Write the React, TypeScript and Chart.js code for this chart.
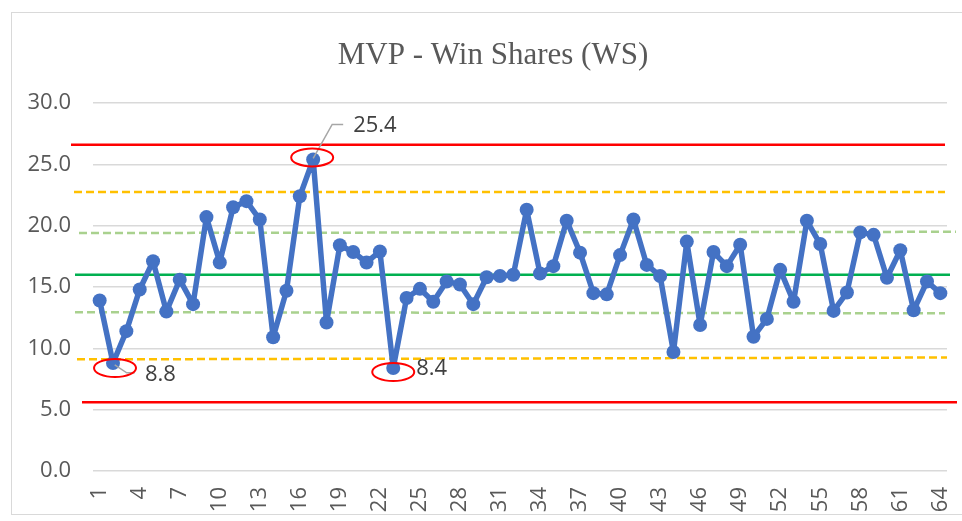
import React, { useEffect, useRef } from "react";
import { Chart, registerables } from "chart.js";

Chart.register(...registerables);

const categories = [
  "1", "2", "3", "4", "5", "6", "7", "8", "9", "10", "11", "12", "13", "14", "15", "16",
  "17", "18", "19", "20", "21", "22", "23", "24", "25", "26", "27", "28", "29", "30", "31", "32",
  "33", "34", "35", "36", "37", "38", "39", "40", "41", "42", "43", "44", "45", "46", "47", "48",
  "49", "50", "51", "52", "53", "54", "55", "56", "57", "58", "59", "60", "61", "62", "63", "64",
];

const winShares = [
  13.9, 8.8, 11.4, 14.8, 17.1, 13.0, 15.6, 13.6, 20.7, 17.0, 21.5, 22.0, 20.5, 10.9, 14.7, 22.4,
  25.4, 12.1, 18.4, 17.85, 17.0, 17.9, 8.4, 14.1, 14.85, 13.8, 15.45, 15.2, 13.6, 15.8, 15.9, 16.0,
  21.3, 16.1, 16.7, 20.4, 17.8, 14.5, 14.4, 17.6, 20.5, 16.8, 15.9, 9.7, 18.7, 11.9, 17.85, 16.7,
  18.45, 10.95, 12.4, 16.4, 13.8, 20.4, 18.5, 13.05, 14.55, 19.45, 19.25, 15.75, 18.0, 13.1, 15.45, 14.5,
];

const yTicks = [0, 5, 10, 15, 20, 25, 30];

// control lines (value at left end, value at right end)
const controlNames = ["UCL", "+2σ", "+1σ", "Mean", "-1σ", "-2σ", "LCL"];
const controlStart = [26.6, 22.75, 19.4, 16.0, 12.95, 9.1, 5.6];
const controlEnd = [26.6, 22.75, 19.5, 16.0, 12.85, 9.25, 5.6];

// highlighted points (indices)
const flaggedPoints = [1, 16, 22];

const TICK_FONT = '"Open Sans", "Liberation Sans", sans-serif';

const controlStyles = [
  { color: "#FF0000", dash: [], width: 2.5, x0: 71, x1: 945 },
  { color: "#FFC000", dash: [8, 4], width: 2.5, x0: 74, x1: 945 },
  { color: "#A9D18E", dash: [8, 4], width: 2.5, x0: 79, x1: 956 },
  { color: "#00B050", dash: [], width: 2.5, x0: 75, x1: 950 },
  { color: "#A9D18E", dash: [8, 4], width: 2.5, x0: 75, x1: 945 },
  { color: "#FFC000", dash: [8, 4], width: 2.5, x0: 77, x1: 947 },
  { color: "#FF0000", dash: [], width: 2.5, x0: 82, x1: 957 },
];

const annotationStyles = [
  { ex: 2, ey: 5, tx: 32, ty: 12, leader: [[1.7, 1.7], [13.7, 9.7], [21.7, 9.7]] },
  { ex: -1, ey: -2, tx: 40, ty: -34, leader: [[0, -1], [19, -35], [30, -35]] },
  { ex: 0, ey: 4, tx: 23, ty: 1, leader: [] as number[][] },
];

const overlayPlugin = {
  id: "overlay",
  beforeDraw(chart: any) {
    const ctx = chart.ctx;
    ctx.save();
    ctx.fillStyle = "#FFFFFF";
    ctx.fillRect(0, 0, chart.width, chart.height);
    ctx.strokeStyle = "#D9D9D9";
    ctx.lineWidth = 1;
    ctx.strokeRect(11.5, 12.5, 970, 502);
    ctx.restore();
  },
  beforeDatasetsDraw(chart: any) {
    const ctx = chart.ctx;
    const y = chart.scales.y;
    controlStart.forEach((v, i) => {
      const st = controlStyles[i];
      ctx.save();
      ctx.strokeStyle = st.color;
      ctx.lineWidth = st.width;
      ctx.setLineDash(st.dash);
      ctx.beginPath();
      ctx.moveTo(st.x0, y.getPixelForValue(v));
      ctx.lineTo(st.x1, y.getPixelForValue(controlEnd[i]));
      ctx.stroke();
      ctx.restore();
    });
  },
  afterDatasetsDraw(chart: any) {
    const ctx = chart.ctx;
    const meta = chart.getDatasetMeta(0);
    flaggedPoints.forEach((idx, k) => {
      const pt = meta.data[idx];
      const a = annotationStyles[k];
      ctx.save();
      if (a.leader.length) {
        ctx.strokeStyle = "#A6A6A6";
        ctx.lineWidth = 1.5;
        ctx.beginPath();
        a.leader.forEach((p, j) => {
          if (j === 0) ctx.moveTo(pt.x + p[0], pt.y + p[1]);
          else ctx.lineTo(pt.x + p[0], pt.y + p[1]);
        });
        ctx.stroke();
      }
      ctx.strokeStyle = "#FF0000";
      ctx.lineWidth = 2;
      ctx.beginPath();
      ctx.ellipse(pt.x + a.ex, pt.y + a.ey, 21, 9, 0, 0, Math.PI * 2);
      ctx.stroke();
      ctx.fillStyle = "#404040";
      ctx.font = `22px ${TICK_FONT}`;
      ctx.textAlign = "left";
      ctx.textBaseline = "middle";
      ctx.fillText(winShares[idx].toFixed(1), pt.x + a.tx, pt.y + a.ty);
      ctx.restore();
    });
  },
  afterDraw(chart: any) {
    const ctx = chart.ctx;
    ctx.save();
    ctx.fillStyle = "#595959";
    ctx.font = '31px "Liberation Serif", "Times New Roman", serif';
    ctx.textAlign = "center";
    ctx.textBaseline = "alphabetic";
    ctx.fillText("MVP - Win Shares (WS)", 493, 64);
    ctx.restore();
  },
};

export default function App() {
  const canvasRef = useRef<HTMLCanvasElement | null>(null);

  useEffect(() => {
    if (!canvasRef.current) return;
    const chart = new Chart(canvasRef.current, {
      type: "line",
      data: {
        labels: categories,
        datasets: [
          {
            label: "Win Shares",
            data: winShares,
            borderColor: "#4472C4",
            backgroundColor: "#4472C4",
            borderWidth: 5.5,
            borderJoinStyle: "round",
            borderCapStyle: "round",
            pointRadius: 7,
            pointBackgroundColor: "#4472C4",
            pointBorderWidth: 0,
            tension: 0,
          },
        ],
      },
      options: {
        animation: false,
        responsive: false,
        devicePixelRatio: 1,
        layout: { padding: { top: 103, right: 15, bottom: 0, left: 0 } },
        plugins: {
          legend: { display: false },
          tooltip: { enabled: false },
          title: { display: false },
        },
        scales: {
          x: {
            type: "category",
            offset: true,
            grid: { display: false, drawTicks: false },
            border: { display: false },
            ticks: {
              autoSkip: false,
              minRotation: 90,
              maxRotation: 90,
              padding: 16,
              color: "#595959",
              font: { family: TICK_FONT, size: 22 },
              callback: (_v: any, i: number) => (i % 3 === 0 ? categories[i] : ""),
            },
            afterFit: (s: any) => {
              s.height = 50;
              s.paddingLeft = 0;
              s.paddingRight = 0;
            },
          },
          y: {
            min: 0,
            max: 30,
            afterBuildTicks: (s: any) => {
              s.ticks = yTicks.map((v) => ({ value: v }));
            },
            grid: { color: "#D9D9D9", lineWidth: 1.5, drawTicks: false },
            border: { display: false },
            ticks: {
              padding: 22,
              color: "#595959",
              font: { family: TICK_FONT, size: 22 },
              callback: (v: any) => Number(v).toFixed(1),
            },
            afterFit: (s: any) => {
              s.width = 93;
              s.paddingTop = 0;
              s.paddingBottom = 0;
            },
          },
        },
      },
      plugins: [overlayPlugin],
    });
    return () => chart.destroy();
  }, []);

  return (
    <div style={{ position: "absolute", left: 0, top: 0, width: 962, height: 521, background: "#fff" }}>
      <canvas ref={canvasRef} width={962} height={521} style={{ display: "block" }} />
    </div>
  );
}
